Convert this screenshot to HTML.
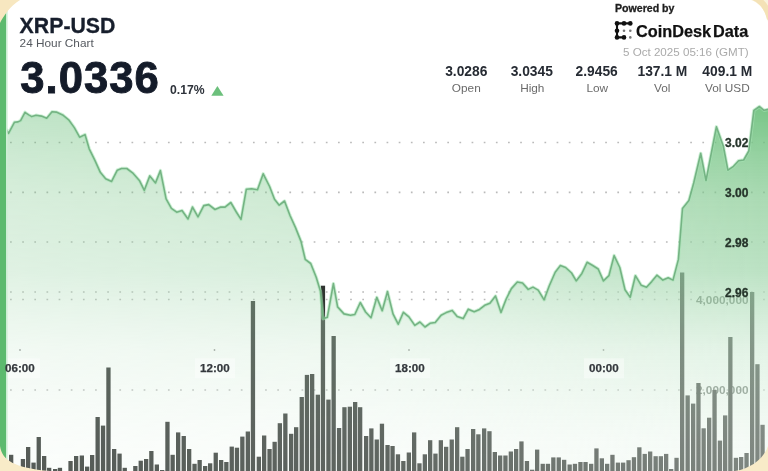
<!DOCTYPE html>
<html><head><meta charset="utf-8">
<style>
html,body{margin:0;padding:0;width:768px;height:471px;overflow:hidden;background:#fff;}
#root{filter:blur(0.35px);position:relative;width:768px;height:471px;overflow:hidden;background:#fff;font-family:"Liberation Sans",sans-serif;}
svg.layer{position:absolute;left:0;top:0;}
.t{position:absolute;white-space:nowrap;line-height:1;}
.b{font-weight:bold;}
.sv{position:absolute;top:64.7px;width:70px;text-align:center;font-size:13.8px;line-height:13.8px;font-weight:bold;color:#262b33;white-space:nowrap;}
.sl{position:absolute;top:83.2px;width:70px;text-align:center;font-size:11.8px;line-height:11.8px;color:#6a6a6a;white-space:nowrap;}
.ax{position:absolute;font-size:12px;font-weight:bold;color:#26352b;line-height:12px;-webkit-text-stroke:0.3px #26352b;}
.vx{position:absolute;font-size:11.8px;font-weight:bold;color:#a0aba2;line-height:11.8px;}
.tx{position:absolute;font-size:11.6px;font-weight:bold;color:#34383d;line-height:12px;padding:4px 5px;-webkit-text-stroke:0.25px #34383d;}
</style></head><body><div id="root">
<svg class="layer" width="768" height="471" viewBox="0 0 768 471">
<defs>
<linearGradient id="fg" x1="0" y1="105" x2="0" y2="471" gradientUnits="userSpaceOnUse">
<stop offset="0" stop-color="#6cc07c" stop-opacity="0.93"/>
<stop offset="0.137" stop-color="#6cc07c" stop-opacity="0.72"/>
<stop offset="0.26" stop-color="rgb(128,200,141)" stop-opacity="0.66"/>
<stop offset="0.456" stop-color="rgb(162,215,173)" stop-opacity="0.72"/>
<stop offset="0.67" stop-color="rgb(203,233,209)" stop-opacity="0.55"/>
<stop offset="0.915" stop-color="rgb(231,245,234)" stop-opacity="0.45"/>
<stop offset="1" stop-color="rgb(233,246,236)" stop-opacity="0.43"/>
</linearGradient>
<linearGradient id="hm" x1="0" y1="0" x2="768" y2="0" gradientUnits="userSpaceOnUse">
<stop offset="0" stop-color="#777777"/>
<stop offset="0.5" stop-color="#999999"/>
<stop offset="0.78" stop-color="#d9d9d9"/>
<stop offset="1" stop-color="#ffffff"/>
</linearGradient>
<mask id="hmask" maskUnits="userSpaceOnUse" x="0" y="0" width="768" height="471"><rect x="0" y="0" width="768" height="471" fill="url(#hm)"/></mask>
</defs>
<g stroke="#bababa" stroke-width="1.7" stroke-dasharray="1.7 10.446" stroke-dashoffset="0"><line x1="-2.1" y1="142.5" x2="768" y2="142.5"/><line x1="-2.1" y1="192.3" x2="768" y2="192.3"/><line x1="-2.1" y1="242" x2="768" y2="242"/><line x1="-2.1" y1="292" x2="768" y2="292"/><line x1="-2.1" y1="299.5" x2="768" y2="299.5"/><line x1="-2.1" y1="390" x2="768" y2="390"/></g>
<g font-family="Liberation Sans, sans-serif" font-size="11.8" font-weight="bold" fill="#6b736d" text-anchor="end"><text x="748.5" y="304.3">4,000,000</text><text x="748.5" y="394.1">2,000,000</text></g>
<g fill="#2f3330"><rect x="9" y="454.8" width="4.3" height="25.2"/><rect x="15" y="466" width="4.3" height="14"/><rect x="20.8" y="459" width="4.3" height="21"/><rect x="26" y="447" width="4.3" height="33"/><rect x="31.4" y="462.6" width="4.3" height="17.4"/><rect x="36.6" y="437" width="4.3" height="43"/><rect x="42" y="456" width="4.3" height="24"/><rect x="47" y="467.8" width="4.3" height="12.2"/><rect x="53" y="469" width="4.3" height="11"/><rect x="57.8" y="467.8" width="4.3" height="12.2"/><rect x="68.4" y="461" width="4.3" height="19"/><rect x="74" y="456" width="4.3" height="24"/><rect x="79.7" y="455.5" width="4.3" height="24.5"/><rect x="85" y="466.6" width="4.3" height="13.4"/><rect x="90" y="455" width="4.3" height="25"/><rect x="95.5" y="417" width="4.3" height="63"/><rect x="100.9" y="425.6" width="4.3" height="54.4"/><rect x="106.3" y="367.5" width="4.3" height="112.5"/><rect x="112" y="449" width="4.3" height="31"/><rect x="117.4" y="453.6" width="4.3" height="26.4"/><rect x="122.6" y="467.8" width="4.3" height="12.2"/><rect x="133.2" y="466" width="4.3" height="14"/><rect x="138.6" y="460.7" width="4.3" height="19.3"/><rect x="144" y="459" width="4.3" height="21"/><rect x="149.2" y="451" width="4.3" height="29"/><rect x="154.7" y="464.5" width="4.3" height="15.5"/><rect x="160" y="470" width="4.3" height="10"/><rect x="165.3" y="421.8" width="4.3" height="58.2"/><rect x="170.5" y="454.8" width="4.3" height="25.2"/><rect x="176" y="432.4" width="4.3" height="47.6"/><rect x="181.6" y="436" width="4.3" height="44"/><rect x="187" y="449" width="4.3" height="31"/><rect x="192.4" y="463.8" width="4.3" height="16.2"/><rect x="197.5" y="460" width="4.3" height="20"/><rect x="203" y="466" width="4.3" height="14"/><rect x="208" y="463.3" width="4.3" height="16.7"/><rect x="213.6" y="452.7" width="4.3" height="27.3"/><rect x="219" y="460" width="4.3" height="20"/><rect x="224.2" y="462" width="4.3" height="18"/><rect x="229.6" y="446.6" width="4.3" height="33.4"/><rect x="234.8" y="447.7" width="4.3" height="32.3"/><rect x="240.2" y="436.6" width="4.3" height="43.4"/><rect x="245.7" y="431.5" width="4.3" height="48.5"/><rect x="250.8" y="301" width="4.3" height="179"/><rect x="256.7" y="456.7" width="4.3" height="23.3"/><rect x="262" y="435.5" width="4.3" height="44.5"/><rect x="267.4" y="449" width="4.3" height="31"/><rect x="272.5" y="441.8" width="4.3" height="38.2"/><rect x="277.7" y="423.2" width="4.3" height="56.8"/><rect x="283.2" y="413.5" width="4.3" height="66.5"/><rect x="289" y="433.8" width="4.3" height="46.2"/><rect x="294" y="427.2" width="4.3" height="52.8"/><rect x="299.6" y="397" width="4.3" height="83"/><rect x="304.8" y="374.9" width="4.3" height="105.1"/><rect x="310" y="374" width="4.3" height="106"/><rect x="315.7" y="394.7" width="4.3" height="85.3"/><rect x="320.8" y="285.7" width="4.3" height="194.3"/><rect x="326.3" y="399.6" width="4.3" height="80.4"/><rect x="331.5" y="336" width="4.3" height="144"/><rect x="336.9" y="428" width="4.3" height="52"/><rect x="342.3" y="407.2" width="4.3" height="72.8"/><rect x="347.7" y="406.7" width="4.3" height="73.3"/><rect x="353" y="402" width="4.3" height="78"/><rect x="358" y="407.2" width="4.3" height="72.8"/><rect x="364" y="436" width="4.3" height="44"/><rect x="369.2" y="428.4" width="4.3" height="51.6"/><rect x="374.6" y="439.5" width="4.3" height="40.5"/><rect x="379.8" y="423.7" width="4.3" height="56.3"/><rect x="385.4" y="445" width="4.3" height="35"/><rect x="390.4" y="446" width="4.3" height="34"/><rect x="395.8" y="454.3" width="4.3" height="25.7"/><rect x="401.2" y="461" width="4.3" height="19"/><rect x="406.7" y="452.5" width="4.3" height="27.5"/><rect x="412" y="432.4" width="4.3" height="47.6"/><rect x="417.3" y="463.3" width="4.3" height="16.7"/><rect x="422.7" y="454.3" width="4.3" height="25.7"/><rect x="428" y="440.2" width="4.3" height="39.8"/><rect x="433.3" y="453.6" width="4.3" height="26.4"/><rect x="438.7" y="440.2" width="4.3" height="39.8"/><rect x="444" y="446.8" width="4.3" height="33.2"/><rect x="449.6" y="439.5" width="4.3" height="40.5"/><rect x="455" y="427.2" width="4.3" height="52.8"/><rect x="460.2" y="456.7" width="4.3" height="23.3"/><rect x="465.4" y="449" width="4.3" height="31"/><rect x="471" y="429" width="4.3" height="51"/><rect x="476.2" y="434.3" width="4.3" height="45.7"/><rect x="482" y="428.4" width="4.3" height="51.6"/><rect x="487.3" y="431.2" width="4.3" height="48.8"/><rect x="492.7" y="452" width="4.3" height="28"/><rect x="498" y="455.5" width="4.3" height="24.5"/><rect x="503.3" y="455.5" width="4.3" height="24.5"/><rect x="508.7" y="451.5" width="4.3" height="28.5"/><rect x="514" y="449" width="4.3" height="31"/><rect x="519.3" y="441.4" width="4.3" height="38.6"/><rect x="524.8" y="461" width="4.3" height="19"/><rect x="530" y="469.7" width="4.3" height="10.3"/><rect x="535" y="449.6" width="4.3" height="30.4"/><rect x="540.6" y="463.8" width="4.3" height="16.2"/><rect x="545.8" y="463.8" width="4.3" height="16.2"/><rect x="551.2" y="457.4" width="4.3" height="22.6"/><rect x="556.6" y="457.4" width="4.3" height="22.6"/><rect x="562" y="459.8" width="4.3" height="20.2"/><rect x="567.5" y="464.5" width="4.3" height="15.5"/><rect x="572.8" y="463.8" width="4.3" height="16.2"/><rect x="578.3" y="462" width="4.3" height="18"/><rect x="583.4" y="462" width="4.3" height="18"/><rect x="589" y="463.8" width="4.3" height="16.2"/><rect x="594.3" y="448.4" width="4.3" height="31.6"/><rect x="599.7" y="458.3" width="4.3" height="21.7"/><rect x="605" y="463.8" width="4.3" height="16.2"/><rect x="610.3" y="454.8" width="4.3" height="25.2"/><rect x="615.8" y="462.6" width="4.3" height="17.4"/><rect x="621" y="462.6" width="4.3" height="17.4"/><rect x="626.4" y="460.2" width="4.3" height="19.8"/><rect x="631.8" y="457.2" width="4.3" height="22.8"/><rect x="637.2" y="447.3" width="4.3" height="32.7"/><rect x="642.6" y="453.9" width="4.3" height="26.1"/><rect x="648" y="451.5" width="4.3" height="28.5"/><rect x="653.5" y="456.2" width="4.3" height="23.8"/><rect x="658.7" y="456.2" width="4.3" height="23.8"/><rect x="664" y="453.9" width="4.3" height="26.1"/><rect x="669" y="469" width="4.3" height="11"/><rect x="674.4" y="457.8" width="4.3" height="22.2"/><rect x="680" y="272.5" width="4.3" height="207.5"/><rect x="685.5" y="395.4" width="4.3" height="84.6"/><rect x="691" y="403.6" width="4.3" height="76.4"/><rect x="696.3" y="383" width="4.3" height="97"/><rect x="701.5" y="428.3" width="4.3" height="51.7"/><rect x="707" y="417.7" width="4.3" height="62.3"/><rect x="712.4" y="390" width="4.3" height="90"/><rect x="717.8" y="440.6" width="4.3" height="39.4"/><rect x="723" y="415.4" width="4.3" height="64.6"/><rect x="728.2" y="337" width="4.3" height="143"/><rect x="733.8" y="457.8" width="4.3" height="22.2"/><rect x="739" y="457" width="4.3" height="23"/><rect x="744.4" y="453" width="4.3" height="27"/><rect x="750" y="292" width="4.3" height="188"/><rect x="755.3" y="364.2" width="4.3" height="115.8"/><rect x="760.4" y="424.8" width="4.3" height="55.2"/></g>
<g fill="#9a9a9a"><circle cx="20" cy="350" r="0.9"/><circle cx="214.5" cy="350" r="0.9"/><circle cx="409" cy="350" r="0.9"/><circle cx="603.5" cy="350" r="0.9"/></g>
<path d="M0 127 L6.4 129.7 L8.5 133.3 L14.4 122.3 L18 121.9 L20.6 120.6 L25 112.3 L28.7 114.9 L31.8 116.6 L36 115.3 L41.4 116.1 L46.7 118.3 L52 111.7 L56.3 112.1 L62.6 114.9 L69 120.2 L74.3 127.6 L79.6 137.2 L85 134.6 L89.2 148.8 L95 160.6 L100.3 172.3 L105.6 178.7 L111.6 181.4 L117.3 170.2 L121.5 168.5 L126.8 168.5 L133.2 173.4 L139.6 180.8 L144.3 190.3 L149.8 175.9 L155.5 182.9 L160.4 170.6 L166.1 198.8 L171.4 208.4 L176.7 212.2 L182 210.5 L188 219 L192.5 207.1 L198 216.9 L203.8 205.6 L208.7 204.6 L215 209.5 L220.8 207.1 L225 207.1 L230.8 202.5 L236.3 212 L241 219.4 L246.3 189.3 L251.6 188.7 L257.5 189.7 L263.2 173.8 L269.6 186.5 L274.5 199.3 L279.2 205.2 L284.5 201 L290 215.5 L295.5 227.6 L301 241.4 L305.2 259.3 L310.7 263.5 L316.2 277.3 L320.4 291 L323.1 318.7 L327.3 317.3 L333.4 283.6 L337.6 306.9 L344 313.9 L350.4 315.2 L354.8 314.5 L360.3 302.5 L365.6 312 L371 317.7 L376.8 297.4 L382.2 310.7 L387.5 291.6 L393 313.9 L398.2 324.2 L403.4 312.3 L408.9 316.9 L414.8 325.4 L419.9 322 L425 327 L430 323.3 L435.2 322.5 L441.1 315.2 L446.2 312.6 L452.2 310.4 L457.2 316.5 L463.2 318.6 L468.3 309.2 L474.2 311.8 L479.5 309.4 L484.7 305.3 L489.9 303.2 L495.5 296 L501 312.4 L506.2 299 L511.4 288.6 L517.3 282 L522.5 283 L528.2 289.4 L533 287.1 L538.2 290.1 L544.1 299.8 L549.3 285.7 L555.2 272.3 L560.4 265.6 L565.6 267.5 L571.6 273 L576.2 280.9 L581.9 273.4 L587.1 262.3 L592.3 265.3 L598.2 269 L603.4 280.9 L608.9 275.7 L614.1 255.6 L619.8 267.5 L625 289.8 L630.2 297.2 L635.4 275.7 L641.3 285.3 L646.5 287.3 L651.7 281.6 L656.9 275.2 L662.9 280.1 L668.2 277.7 L673 280.1 L678.4 259.4 L682.5 208.5 L688.9 200.5 L693.7 183 L700.7 153.4 L706 180.5 L716.4 126.8 L723.3 146 L727.9 170.2 L733.5 166.3 L738.6 160.7 L743.7 160 L748.8 151 L753.9 110.3 L759.5 106.5 L764 110.3 L770 109 L770 480 L0 480 Z" fill="url(#fg)" mask="url(#hmask)"/>
<g fill="rgba(255,255,255,0.4)"><rect x="0" y="358.3" width="40" height="20"/><rect x="195" y="358.3" width="40" height="20"/><rect x="390" y="358.3" width="40" height="20"/><rect x="584" y="358.3" width="40" height="20"/></g>

<path d="M0 127 L6.4 129.7 L8.5 133.3 L14.4 122.3 L18 121.9 L20.6 120.6 L25 112.3 L28.7 114.9 L31.8 116.6 L36 115.3 L41.4 116.1 L46.7 118.3 L52 111.7 L56.3 112.1 L62.6 114.9 L69 120.2 L74.3 127.6 L79.6 137.2 L85 134.6 L89.2 148.8 L95 160.6 L100.3 172.3 L105.6 178.7 L111.6 181.4 L117.3 170.2 L121.5 168.5 L126.8 168.5 L133.2 173.4 L139.6 180.8 L144.3 190.3 L149.8 175.9 L155.5 182.9 L160.4 170.6 L166.1 198.8 L171.4 208.4 L176.7 212.2 L182 210.5 L188 219 L192.5 207.1 L198 216.9 L203.8 205.6 L208.7 204.6 L215 209.5 L220.8 207.1 L225 207.1 L230.8 202.5 L236.3 212 L241 219.4 L246.3 189.3 L251.6 188.7 L257.5 189.7 L263.2 173.8 L269.6 186.5 L274.5 199.3 L279.2 205.2 L284.5 201 L290 215.5 L295.5 227.6 L301 241.4 L305.2 259.3 L310.7 263.5 L316.2 277.3 L320.4 291 L323.1 318.7 L327.3 317.3 L333.4 283.6 L337.6 306.9 L344 313.9 L350.4 315.2 L354.8 314.5 L360.3 302.5 L365.6 312 L371 317.7 L376.8 297.4 L382.2 310.7 L387.5 291.6 L393 313.9 L398.2 324.2 L403.4 312.3 L408.9 316.9 L414.8 325.4 L419.9 322 L425 327 L430 323.3 L435.2 322.5 L441.1 315.2 L446.2 312.6 L452.2 310.4 L457.2 316.5 L463.2 318.6 L468.3 309.2 L474.2 311.8 L479.5 309.4 L484.7 305.3 L489.9 303.2 L495.5 296 L501 312.4 L506.2 299 L511.4 288.6 L517.3 282 L522.5 283 L528.2 289.4 L533 287.1 L538.2 290.1 L544.1 299.8 L549.3 285.7 L555.2 272.3 L560.4 265.6 L565.6 267.5 L571.6 273 L576.2 280.9 L581.9 273.4 L587.1 262.3 L592.3 265.3 L598.2 269 L603.4 280.9 L608.9 275.7 L614.1 255.6 L619.8 267.5 L625 289.8 L630.2 297.2 L635.4 275.7 L641.3 285.3 L646.5 287.3 L651.7 281.6 L656.9 275.2 L662.9 280.1 L668.2 277.7 L673 280.1 L678.4 259.4 L682.5 208.5 L688.9 200.5 L693.7 183 L700.7 153.4 L706 180.5 L716.4 126.8 L723.3 146 L727.9 170.2 L733.5 166.3 L738.6 160.7 L743.7 160 L748.8 151 L753.9 110.3 L759.5 106.5 L764 110.3 L770 109" fill="none" stroke="rgba(165,228,180,0.55)" stroke-width="3.4" stroke-linejoin="round"/>
<path d="M0 127 L6.4 129.7 L8.5 133.3 L14.4 122.3 L18 121.9 L20.6 120.6 L25 112.3 L28.7 114.9 L31.8 116.6 L36 115.3 L41.4 116.1 L46.7 118.3 L52 111.7 L56.3 112.1 L62.6 114.9 L69 120.2 L74.3 127.6 L79.6 137.2 L85 134.6 L89.2 148.8 L95 160.6 L100.3 172.3 L105.6 178.7 L111.6 181.4 L117.3 170.2 L121.5 168.5 L126.8 168.5 L133.2 173.4 L139.6 180.8 L144.3 190.3 L149.8 175.9 L155.5 182.9 L160.4 170.6 L166.1 198.8 L171.4 208.4 L176.7 212.2 L182 210.5 L188 219 L192.5 207.1 L198 216.9 L203.8 205.6 L208.7 204.6 L215 209.5 L220.8 207.1 L225 207.1 L230.8 202.5 L236.3 212 L241 219.4 L246.3 189.3 L251.6 188.7 L257.5 189.7 L263.2 173.8 L269.6 186.5 L274.5 199.3 L279.2 205.2 L284.5 201 L290 215.5 L295.5 227.6 L301 241.4 L305.2 259.3 L310.7 263.5 L316.2 277.3 L320.4 291 L323.1 318.7 L327.3 317.3 L333.4 283.6 L337.6 306.9 L344 313.9 L350.4 315.2 L354.8 314.5 L360.3 302.5 L365.6 312 L371 317.7 L376.8 297.4 L382.2 310.7 L387.5 291.6 L393 313.9 L398.2 324.2 L403.4 312.3 L408.9 316.9 L414.8 325.4 L419.9 322 L425 327 L430 323.3 L435.2 322.5 L441.1 315.2 L446.2 312.6 L452.2 310.4 L457.2 316.5 L463.2 318.6 L468.3 309.2 L474.2 311.8 L479.5 309.4 L484.7 305.3 L489.9 303.2 L495.5 296 L501 312.4 L506.2 299 L511.4 288.6 L517.3 282 L522.5 283 L528.2 289.4 L533 287.1 L538.2 290.1 L544.1 299.8 L549.3 285.7 L555.2 272.3 L560.4 265.6 L565.6 267.5 L571.6 273 L576.2 280.9 L581.9 273.4 L587.1 262.3 L592.3 265.3 L598.2 269 L603.4 280.9 L608.9 275.7 L614.1 255.6 L619.8 267.5 L625 289.8 L630.2 297.2 L635.4 275.7 L641.3 285.3 L646.5 287.3 L651.7 281.6 L656.9 275.2 L662.9 280.1 L668.2 277.7 L673 280.1 L678.4 259.4 L682.5 208.5 L688.9 200.5 L693.7 183 L700.7 153.4 L706 180.5 L716.4 126.8 L723.3 146 L727.9 170.2 L733.5 166.3 L738.6 160.7 L743.7 160 L748.8 151 L753.9 110.3 L759.5 106.5 L764 110.3 L770 109" fill="none" stroke="#74b383" stroke-width="1.6" stroke-linejoin="round"/>
<rect x="6" y="0" width="1.6" height="471" fill="#cdeed5"/>
<rect x="0" y="0" width="6" height="471" fill="#5cba6e"/>

</svg>

<div class="t b" style="left:19.6px;top:16.2px;font-size:21.3px;color:#171e2c;-webkit-text-stroke:0.3px #171e2c;">XRP-USD</div>
<div class="t" style="left:19.6px;top:38.4px;font-size:11.8px;color:#565a60;">24 Hour Chart</div>
<div class="t b" style="left:20.2px;top:57px;font-size:43.6px;color:#141b29;letter-spacing:1.05px;-webkit-text-stroke:0.9px #141b29;">3.0336</div>
<div class="t b" style="left:170px;top:84px;font-size:12.2px;color:#2e333b;">0.17%</div>
<svg class="layer" width="768" height="471" style="pointer-events:none">
<polygon points="211.3,95.7 217.4,86 223.6,95.7" fill="#6cc07c"/>
</svg>

<div class="sv" style="left:431.3px;">3.0286</div><div class="sl" style="left:431.3px;">Open</div>
<div class="sv" style="left:496.8px;">3.0345</div><div class="sl" style="left:497.3px;">High</div>
<div class="sv" style="left:561.7px;">2.9456</div><div class="sl" style="left:562.3px;">Low</div>
<div class="sv" style="left:627.4px;">137.1 M</div><div class="sl" style="left:627.2px;">Vol</div>
<div class="sv" style="left:692.3px;">409.1 M</div><div class="sl" style="left:692.4px;">Vol USD</div>

<div class="t b" style="left:615px;top:3.4px;font-size:10.6px;color:#1e1e1e;-webkit-text-stroke:0.3px #1e1e1e;">Powered by</div>
<svg class="layer" width="768" height="471">
<g stroke="#111" stroke-width="2.1" stroke-linecap="round">
<line x1="617" y1="23.4" x2="630.3" y2="23.4"/>
<line x1="617" y1="23.4" x2="617" y2="37.4"/>
<line x1="617" y1="37.4" x2="624" y2="37.4"/>
</g>
<g fill="#111">
<circle cx="617" cy="23.4" r="2.3"/><circle cx="624" cy="23.4" r="2.3"/><circle cx="630.3" cy="23.4" r="2.3"/>
<circle cx="617" cy="30.8" r="2.3"/><circle cx="617" cy="37.4" r="2.3"/><circle cx="624" cy="37.4" r="2.3"/>
</g>
<g fill="#777"><circle cx="624" cy="30.8" r="1.3"/><circle cx="630.3" cy="30.8" r="1.3"/><circle cx="630.3" cy="37.4" r="1.3"/></g>
</svg>
<div class="t b" style="left:636px;top:23.2px;font-size:16.3px;color:#111;-webkit-text-stroke:0.25px #111;">CoinDesk<span style="margin-left:1.8px">Data</span></div>
<div class="t" style="left:623px;top:46px;font-size:11.6px;color:#aaaaaa;">5 Oct 2025 05:16 (GMT)</div>

<div class="ax" style="left:725px;top:137px;">3.02</div>
<div class="ax" style="left:725px;top:187px;">3.00</div>
<div class="ax" style="left:725px;top:237px;">2.98</div>
<div class="ax" style="left:725px;top:287px;">2.96</div>

<div class="tx" style="left:0px;top:358.3px;">06:00</div>
<div class="tx" style="left:195px;top:358.3px;">12:00</div>
<div class="tx" style="left:390px;top:358.3px;">18:00</div>
<div class="tx" style="left:584px;top:358.3px;">00:00</div>

<svg class="layer" width="768" height="471">
<path d="M0 23 C3 17 10 6 20 0 L0 0 Z" fill="#f7e7c0"/>
<path d="M751 0 C759 3 765 9 768 22 L768 0 Z" fill="#fbf3dc"/>
<path d="M753 -3 C761 0 767 6 770 19" fill="none" stroke="#f4e2b6" stroke-width="6"/>
<path d="M0 446 C2 460 14 468 50 471 L0 471 Z" fill="#f8ebc8"/>
<path d="M768 446 C764 458 752 468 735 471 L768 471 Z" fill="#f8ebc8"/>
</svg>
</div></body></html>
